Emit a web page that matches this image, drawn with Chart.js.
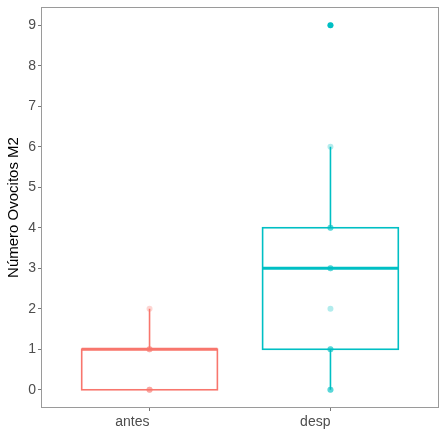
<!DOCTYPE html>
<html>
<head>
<meta charset="utf-8">
<script src="https://cdn.jsdelivr.net/npm/chart.js@4/dist/chart.umd.min.js"></script>
<style>
html,body{margin:0;padding:0;background:#fff;}
#wrap{width:447px;height:437px;}
</style>
</head>
<body>
<div id="wrap"><canvas id="c" width="447" height="437"></canvas></div>
<script>
// ---- data ----
const categories = ['antes', 'desp'];
const yTickValues = [0, 1, 2, 3, 4, 5, 6, 7, 8, 9];
const boxQ1 = [0, 1];
const boxMedian = [1, 3];
const boxQ3 = [1, 4];
const whiskerLow = [0, 0];
const whiskerHigh = [2, 6];
const outliersDesp = [9];
const pointsAntes = [0, 0, 0, 1, 1, 1, 2];
const pointsDesp = [0, 0, 0, 1, 1, 1, 2, 3, 3, 3, 4, 4, 4, 6, 9];
const groupColors = ['#F8766D', '#00BFC4'];
const groupColorsAlpha = ['rgba(248,118,109,0.3)', 'rgba(0,191,196,0.3)'];

const boxPlugin = {
  id: 'boxes',
  beforeDatasetsDraw(chart) {
    const {ctx, chartArea, scales} = chart;
    const xs = scales.x, ys = scales.y;
    ctx.save();
    // panel border
    ctx.strokeStyle = '#9a9a9a';
    ctx.lineWidth = 1;
    ctx.strokeRect(Math.round(chartArea.left) + 0.5, Math.round(chartArea.top) + 0.5,
      Math.round(chartArea.right - chartArea.left) - 1, Math.round(chartArea.bottom - chartArea.top) - 1);
    categories.forEach((cat, i) => {
      const cx = xs.getPixelForValue(i + 1);
      const hw = Math.abs(xs.getPixelForValue(i + 1 + 0.375) - cx);
      const yQ1 = ys.getPixelForValue(boxQ1[i]);
      const yQ3 = ys.getPixelForValue(boxQ3[i]);
      const yMed = ys.getPixelForValue(boxMedian[i]);
      const yLo = ys.getPixelForValue(whiskerLow[i]);
      const yHi = ys.getPixelForValue(whiskerHigh[i]);
      ctx.strokeStyle = groupColors[i];
      ctx.lineWidth = 1.6;
      // whiskers
      ctx.beginPath();
      ctx.moveTo(cx, yQ3); ctx.lineTo(cx, yHi);
      ctx.moveTo(cx, yQ1); ctx.lineTo(cx, yLo);
      ctx.stroke();
      // box
      ctx.strokeRect(cx - hw, yQ3, hw * 2, yQ1 - yQ3);
      // median
      ctx.lineWidth = 2.8;
      ctx.beginPath();
      ctx.moveTo(cx - hw, yMed); ctx.lineTo(cx + hw, yMed);
      ctx.stroke();
    });
    ctx.restore();
  }
};

function zeroPadding(scale) {
  scale.paddingTop = 0; scale.paddingBottom = 0;
  scale.paddingLeft = 0; scale.paddingRight = 0;
}

const tickFont = {family: "'Liberation Sans', Arial, sans-serif", size: 14};

new Chart(document.getElementById('c'), {
  type: 'scatter',
  data: {
    datasets: [
      {
        data: outliersDesp.map(v => ({x: 2, y: v})),
        backgroundColor: groupColors[1],
        borderWidth: 0,
        pointRadius: 3
      },
      {
        data: pointsAntes.map(v => ({x: 1, y: v})),
        backgroundColor: groupColorsAlpha[0],
        borderWidth: 0,
        pointRadius: 3
      },
      {
        data: pointsDesp.map(v => ({x: 2, y: v})),
        backgroundColor: groupColorsAlpha[1],
        borderWidth: 0,
        pointRadius: 3
      }
    ]
  },
  options: {
    responsive: false,
    animation: false,
    devicePixelRatio: 1,
    layout: {padding: {top: 7, right: 8, left: 0, bottom: 0}},
    plugins: {legend: {display: false}, tooltip: {enabled: false}},
    scales: {
      x: {
        type: 'linear',
        min: 0.4,
        max: 2.6,
        afterBuildTicks(scale) { scale.ticks = categories.map((c, i) => ({value: i + 1})); },
        afterFit(scale) { scale.height = 29; zeroPadding(scale); },
        ticks: {
          callback: (v) => categories[Math.round(v) - 1],
          color: '#4d4d4d',
          font: tickFont,
          padding: 3,
          align: 'end',
          maxRotation: 0
        },
        grid: {drawOnChartArea: false, drawTicks: true, tickLength: 3, tickColor: '#777', lineWidth: 1},
        border: {display: false}
      },
      y: {
        type: 'linear',
        min: -0.45,
        max: 9.45,
        afterBuildTicks(scale) { scale.ticks = yTickValues.map(v => ({value: v})); },
        afterFit(scale) { scale.width = 41; zeroPadding(scale); },
        ticks: {color: '#4d4d4d', font: tickFont, padding: 2},
        grid: {drawOnChartArea: false, drawTicks: true, tickLength: 3, tickColor: '#777', lineWidth: 1},
        border: {display: false},
        title: {
          display: true,
          text: 'Número Ovocitos M2',
          color: '#000',
          font: {family: "'Liberation Sans', Arial, sans-serif", size: 15},
          padding: {top: 5, bottom: 0}
        }
      }
    }
  },
  plugins: [boxPlugin]
});
</script>
</body>
</html>
